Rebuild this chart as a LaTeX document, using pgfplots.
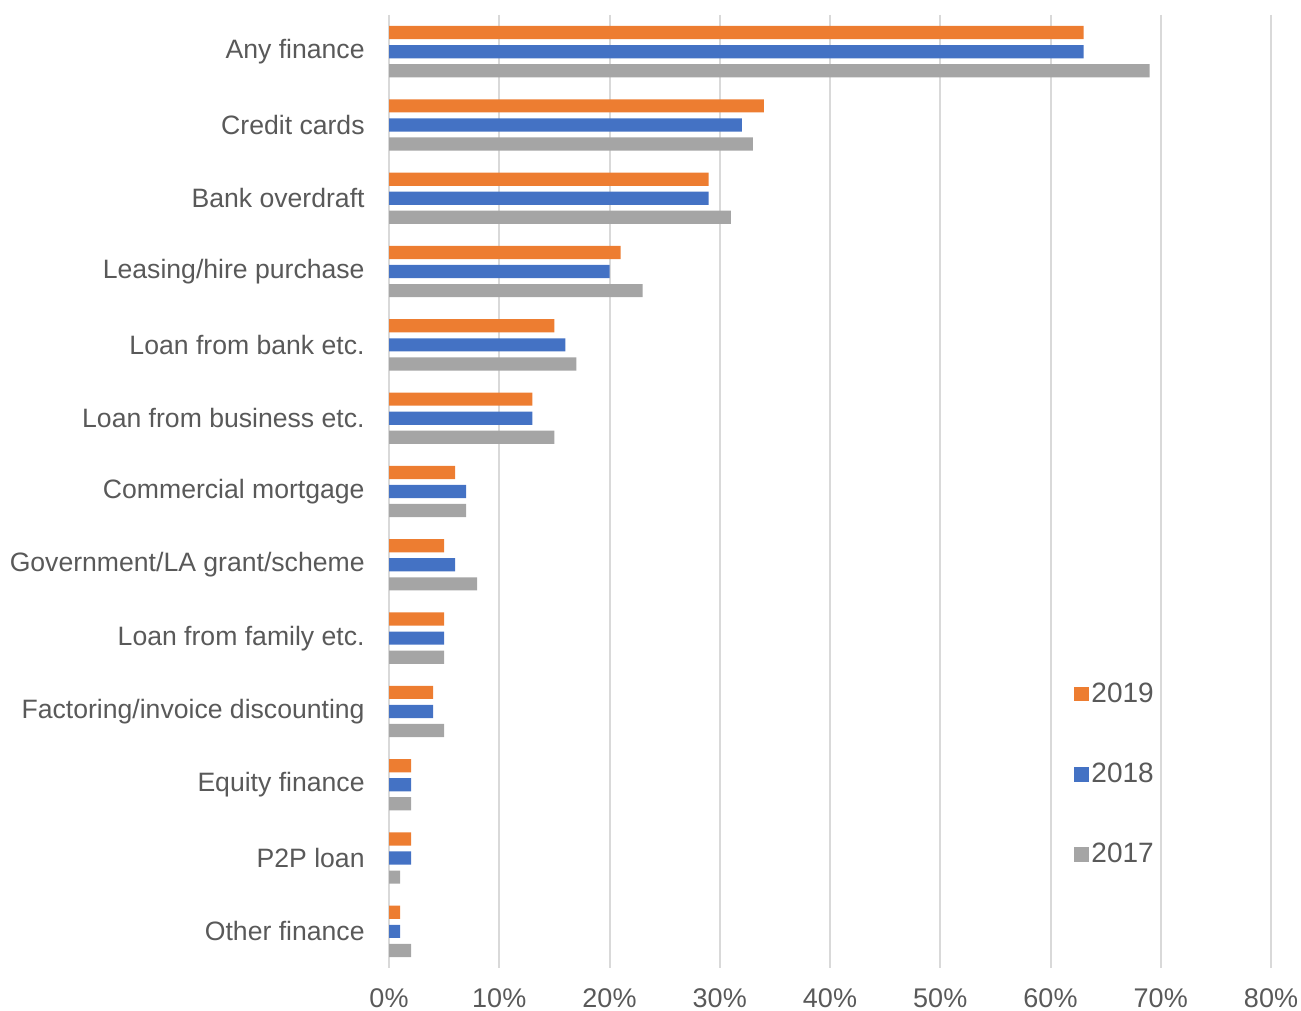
\documentclass[border=0pt]{standalone}
\usepackage{pgfplots}
\usepackage{pgfplotstable}
\pgfplotsset{compat=1.18}
\usepackage{fontspec}
\setmainfont{Liberation Sans}

\definecolor{c2019}{HTML}{ED7D31}
\definecolor{c2018}{HTML}{4472C4}
\definecolor{c2017}{HTML}{A5A5A5}
\definecolor{txt}{HTML}{595959}
\definecolor{grid}{HTML}{D9D9D9}

% idx 0 = top category
\pgfplotstableread{
idx y2019 y2018 y2017
0   63 63 69
1   34 32 33
2   29 29 31
3   21 20 23
4   15 16 17
5   13 13 15
6   6  7  7
7   5  6  8
8   5  5  5
9   4  4  5
10  2  2  2
11  2  2  1
12  1  1  2
}\finance

\begin{document}
\begin{tikzpicture}
\begin{axis}[
  name=ax,
  scale only axis,
  width=441pt, height=476.5pt,
  y dir=reverse,
  xmin=0, xmax=80, ymin=-0.5, ymax=12.5,
  xtick={0,10,...,80},
  xticklabel={\pgfmathprintnumber{\tick}\%},
  /pgf/number format/assume math mode=true,
  ytick={0,...,12},
  yticklabels={Any finance,Credit cards,Bank overdraft,Leasing/hire purchase,
    Loan from bank etc.,Loan from business etc.,Commercial mortgage,
    Government/LA grant/scheme,Loan from family etc.,Factoring/invoice discounting,
    Equity finance,P2P loan,Other finance},
  axis line style={draw=none},
  major tick style={draw=none},
  xmajorgrids,
  major grid style={draw=grid, line width=1pt},
  ticklabel style={text=txt, inner sep=0pt},
  yticklabel style={xshift=-12pt, font=\fontsize{13.3}{15}\selectfont},
  xticklabel style={yshift=-10pt, font=\fontsize{13.5}{15}\selectfont},
  legend style={draw=none, fill=none, inner sep=0pt,
    at={(0.7765,0.3025)}, anchor=north west, row sep=26.5pt,
    nodes={inner sep=1.2pt, text=txt, font=\fontsize{14}{15}\selectfont}},
]
\addplot[xbar, bar width=0.18, bar shift=-0.26, fill=c2019, draw=none, forget plot]
  table[x=y2019, y=idx] {\finance};
\addplot[xbar, bar width=0.18, bar shift=0, fill=c2018, draw=none, forget plot]
  table[x=y2018, y=idx] {\finance};
\addplot[xbar, bar width=0.18, bar shift=0.26, fill=c2017, draw=none, forget plot]
  table[x=y2017, y=idx] {\finance};
\addlegendimage{legend image code/.code={\fill[c2019] (0pt,-3.4pt) rectangle (7pt,3.4pt);}}
\addlegendimage{legend image code/.code={\fill[c2018] (0pt,-3.4pt) rectangle (7pt,3.4pt);}}
\addlegendimage{legend image code/.code={\fill[c2017] (0pt,-3.4pt) rectangle (7pt,3.4pt);}}
\legend{2019,2018,2017}
\end{axis}
\pgfresetboundingbox
\path ([xshift=-194.5pt,yshift=-21pt]ax.south west) rectangle ([xshift=15pt,yshift=7.5pt]ax.north east);
\end{tikzpicture}
\end{document}
